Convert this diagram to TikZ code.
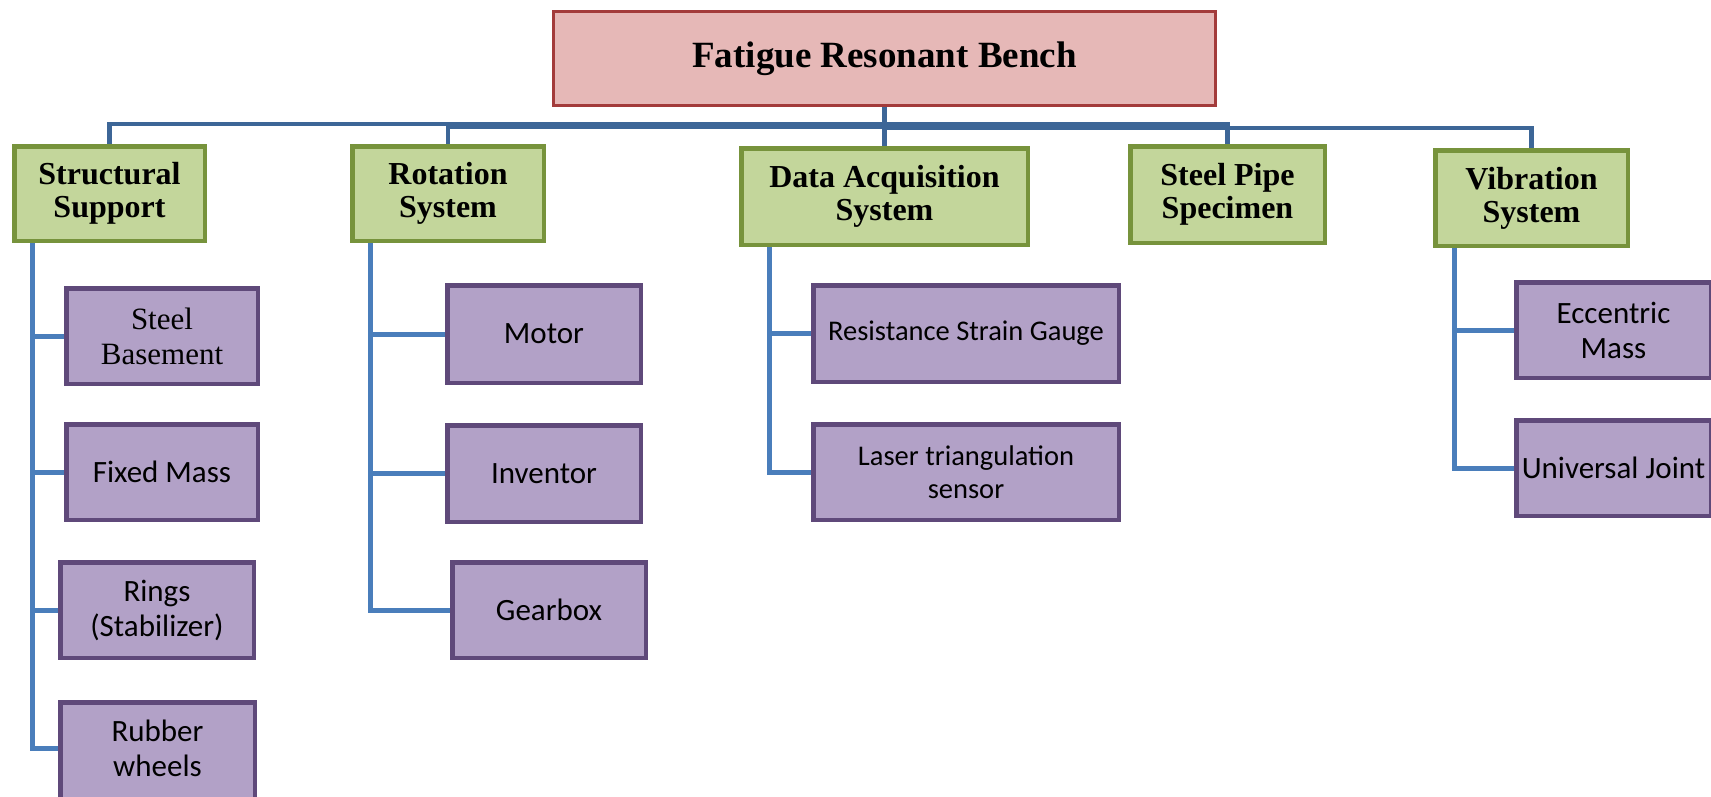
\documentclass[tikz,border=0pt]{standalone}
\usepackage{fontspec}
\setmainfont{Liberation Serif}
\newfontfamily\calib{Carlito}
\definecolor{rootfill}{HTML}{E6B8B7}
\definecolor{rootline}{HTML}{A33B3B}
\definecolor{gfill}{HTML}{C3D69B}
\definecolor{gline}{HTML}{77933C}
\definecolor{pfill}{HTML}{B2A1C7}
\definecolor{pline}{HTML}{5F497A}
\definecolor{busblue}{HTML}{3D6697}
\definecolor{connblue}{HTML}{4A7EBB}
\begin{document}
\begin{tikzpicture}[x=1pt,y=-1pt,
  box/.style={draw, line width=4.5pt, inner sep=0pt, align=center},
  l0/.style={box, fill=rootfill, draw=rootline, line width=3pt, font=\bfseries\fontsize{37}{40}\selectfont},
  l1/.style={box, fill=gfill, draw=gline, font=\bfseries\fontsize{32}{33}\selectfont},
  l2/.style={box, fill=pfill, draw=pline, font=\calib\fontsize{31}{35}\selectfont},
  l2s/.style={l2, font=\calib\fontsize{28.5}{33}\selectfont},
  bus/.style={draw=busblue, line width=4.5pt},
  conn/.style={draw=connblue, line width=5pt},
]
\useasboundingbox (0,0) rectangle (1711,796);
% root
\node[l0, minimum width=662pt, minimum height=94pt] (root) at (884.5,58.5) {\raisebox{1pt}{Fatigue Resonant Bench}};
% level 1
\node[l1, minimum width=190.5pt, minimum height=94.5pt] (ss) at (109.5,193.5) {Structural\\Support};
\node[l1, minimum width=191.5pt, minimum height=94.5pt] (rs) at (448,193.5) {Rotation\\System};
\node[l1, minimum width=286.5pt, minimum height=96.5pt] (da) at (884.5,196.5) {Data Acquisition\\System};
\node[l1, minimum width=194.5pt, minimum height=96.5pt] (sp) at (1227.5,194.5) {Steel Pipe\\Specimen};
\node[l1, minimum width=192.5pt, minimum height=95.5pt] (vs) at (1531.5,198) {Vibration\\System};
% level 2
\node[l2, minimum width=191.5pt, minimum height=95.5pt, font=\fontsize{31}{35}\selectfont] (sb) at (162,336) {Steel\\Basement};
\node[l2, minimum width=191.5pt, minimum height=95.5pt] (fm) at (162,472) {Fixed Mass};
\node[l2, minimum width=193.5pt, minimum height=95.5pt] (rg) at (157,610) {Rings\\(Stabilizer)};
\node[l2, minimum width=194.5pt, minimum height=115pt, anchor=north] (rw) at (157.5,700.25) {Rubber\\wheels\\[-12pt]\mbox{}};
\node[l2, minimum width=193.5pt, minimum height=97.5pt] (mo) at (544,334) {Motor};
\node[l2, minimum width=193.5pt, minimum height=96.5pt] (iv) at (544,473.5) {Inventor};
\node[l2, minimum width=193.5pt, minimum height=95.5pt] (gb) at (549,610) {Gearbox};
\node[l2s, minimum width=305.5pt, minimum height=96.5pt] (rsg) at (966,333.5) {Resistance Strain Gauge};
\node[l2s, minimum width=305.5pt, minimum height=95.5pt] (lts) at (966,472) {Laser triangulation\\sensor};
\node[l2, minimum width=194.5pt, minimum height=95.5pt] (em) at (1613.5,330) {Eccentric\\Mass};
\node[l2, minimum width=194.5pt, minimum height=95.5pt] (uj) at (1613.5,468) {Universal Joint};
% bus
\draw[bus] (root.south) -- ++(0,17) -| (ss.north);
\draw[bus] (root.south) -- ++(0,20) -| (rs.north);
\draw[bus] (root.south) -- (da.north);
\draw[bus] (root.south) -- ++(0,17) -| (sp.north);
\draw[bus] (root.south) -- ++(0,21) -| (vs.north);
% children connectors
\coordinate (rwj) at ([yshift=-48pt]rw.north west);
\draw[conn] ([xshift=20pt]ss.south west) |- (sb.west);
\draw[conn] ([xshift=20pt]ss.south west) |- (fm.west);
\draw[conn] ([xshift=20pt]ss.south west) |- (rg.west);
\draw[conn] ([xshift=20pt]ss.south west) |- (rwj);
\draw[conn] ([xshift=20.5pt]rs.south west) |- (mo.west);
\draw[conn] ([xshift=20.5pt]rs.south west) |- (iv.west);
\draw[conn] ([xshift=20.5pt]rs.south west) |- (gb.west);
\draw[conn] ([xshift=30pt]da.south west) |- (rsg.west);
\draw[conn] ([xshift=30pt]da.south west) |- (lts.west);
\draw[conn] ([xshift=21pt]vs.south west) |- (em.west);
\draw[conn] ([xshift=21pt]vs.south west) |- (uj.west);
\end{tikzpicture}
\end{document}
